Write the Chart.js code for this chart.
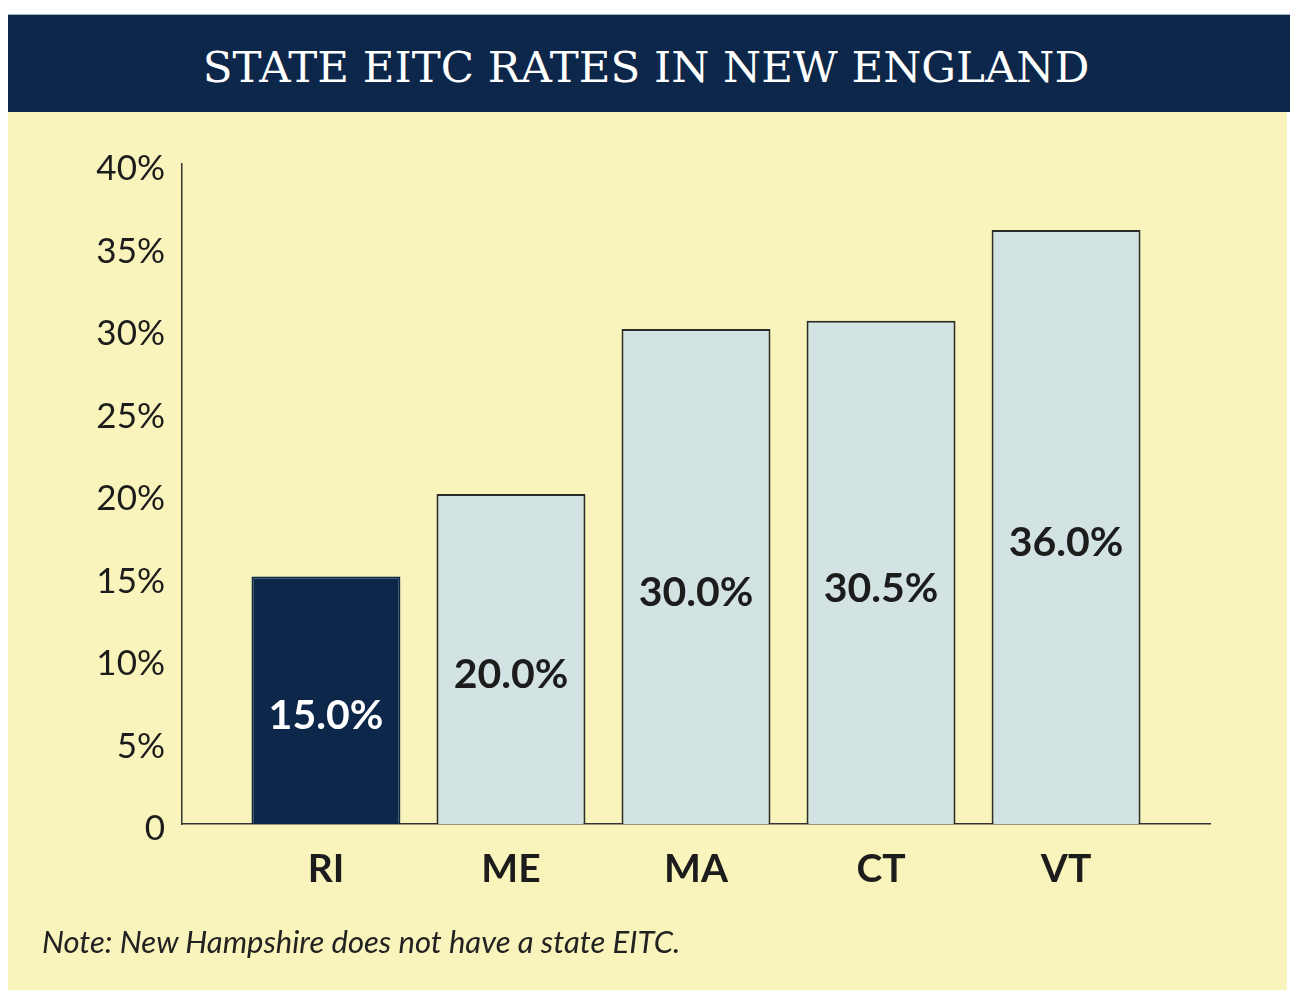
<!DOCTYPE html>
<html>
<head>
<meta charset="utf-8">
<script src="https://cdn.jsdelivr.net/npm/chart.js@4"></script>
<style>
  html, body { margin: 0; padding: 0; background: #ffffff; width: 1297px; height: 1000px; overflow: hidden; }
  #band { position: absolute; left: 8px; top: 14px; width: 1282px; height: 98px; background: #0c2749; border-top: 1px solid #9fb4c8; box-sizing: border-box; }
  #title { position: absolute; left: 0; right: 6px; top: 50%; transform: translateY(-44%); text-align: center; color: #ffffff; font-family: "DejaVu Serif", serif; font-size: 43.5px; letter-spacing: 0px; white-space: nowrap; }
  #panel { position: absolute; left: 8px; top: 112px; width: 1279px; height: 878px; background: #f8f4bb; }
  #wrap { position: absolute; left: 0; top: 0; width: 1279px; height: 878px; }
  #note { position: absolute; left: 34px; top: 810px; font-family: "Lato", sans-serif; font-style: italic; font-size: 31px; color: #222222; white-space: nowrap; }
</style>
</head>
<body>
<div id="band"><div id="title">STATE EITC RATES IN NEW ENGLAND</div></div>
<div id="panel">
  <div id="wrap"><canvas id="c"></canvas></div>
  <div id="note">Note: New Hampshire does not have a state EITC.</div>
</div>
<script>
const categories = ["RI", "ME", "MA", "CT", "VT"];
const rates = [15.0, 20.0, 30.0, 30.5, 36.0];
const yTicks = [0, 5, 10, 15, 20, 25, 30, 35, 40];

const navy = "#0c2749";
const light = "#d3e3e3";
const ink = "#1c1c1c";

const points = categories.map((c, i) => ({ x: i, y: rates[i] }));

const valueLabels = {
  id: "valueLabels",
  afterDatasetsDraw(chart) {
    const ctx = chart.ctx;
    const meta = chart.getDatasetMeta(0);
    ctx.save();
    ctx.font = "bold 41px Lato";
    ctx.textAlign = "center";
    ctx.textBaseline = "middle";
    meta.data.forEach((bar, i) => {
      const mid = (bar.y + bar.base) / 2 + 16;
      ctx.fillStyle = i === 0 ? "#ffffff" : ink;
      ctx.fillText(rates[i].toFixed(1) + "%", bar.x, mid);
    });
    ctx.restore();
  }
};

new Chart(document.getElementById("c"), {
  type: "bar",
  data: {
    datasets: [{
      data: points,
      backgroundColor: categories.map((c, i) => i === 0 ? navy : light),
      borderColor: categories.map((c, i) => i === 0 ? navy : "#2b2b2b"),
      borderWidth: 2,
      borderSkipped: "bottom",
      barPercentage: 0.805,
      categoryPercentage: 1
    }]
  },
  options: {
    responsive: true,
    maintainAspectRatio: false,
    animation: false,
    layout: { padding: { top: 52, right: 77, left: 0, bottom: 0 } },
    plugins: { legend: { display: false }, tooltip: { enabled: false } },
    scales: {
      x: {
        type: "linear",
        offset: false,
        min: -0.778,
        max: 4.778,
        afterBuildTicks(scale) { scale.ticks = categories.map((c, i) => ({ value: i })); },
        afterFit(scale) { scale.height = 166; },
        grid: { display: false, drawTicks: false, offset: false },
        border: { display: true, color: "#333333", width: 1.5 },
        ticks: {
          autoSkip: false,
          maxRotation: 0,
          padding: 22,
          color: ink,
          font: { family: "Lato", size: 39, weight: "bold" },
          callback: (v) => categories[v]
        }
      },
      y: {
        min: 0,
        max: 40,
        afterBuildTicks(scale) { scale.ticks = yTicks.map(v => ({ value: v })); },
        afterFit(scale) { scale.width = 174; },
        grid: { display: false, drawTicks: false },
        border: { display: true, color: "#333333", width: 1.5 },
        ticks: {
          padding: 17,
          labelOffset: 5,
          color: ink,
          font: { family: "Lato", size: 35 },
          callback: (v) => v === 0 ? "0" : v + "%"
        }
      }
    }
  },
  plugins: [valueLabels]
});
</script>
</body>
</html>
